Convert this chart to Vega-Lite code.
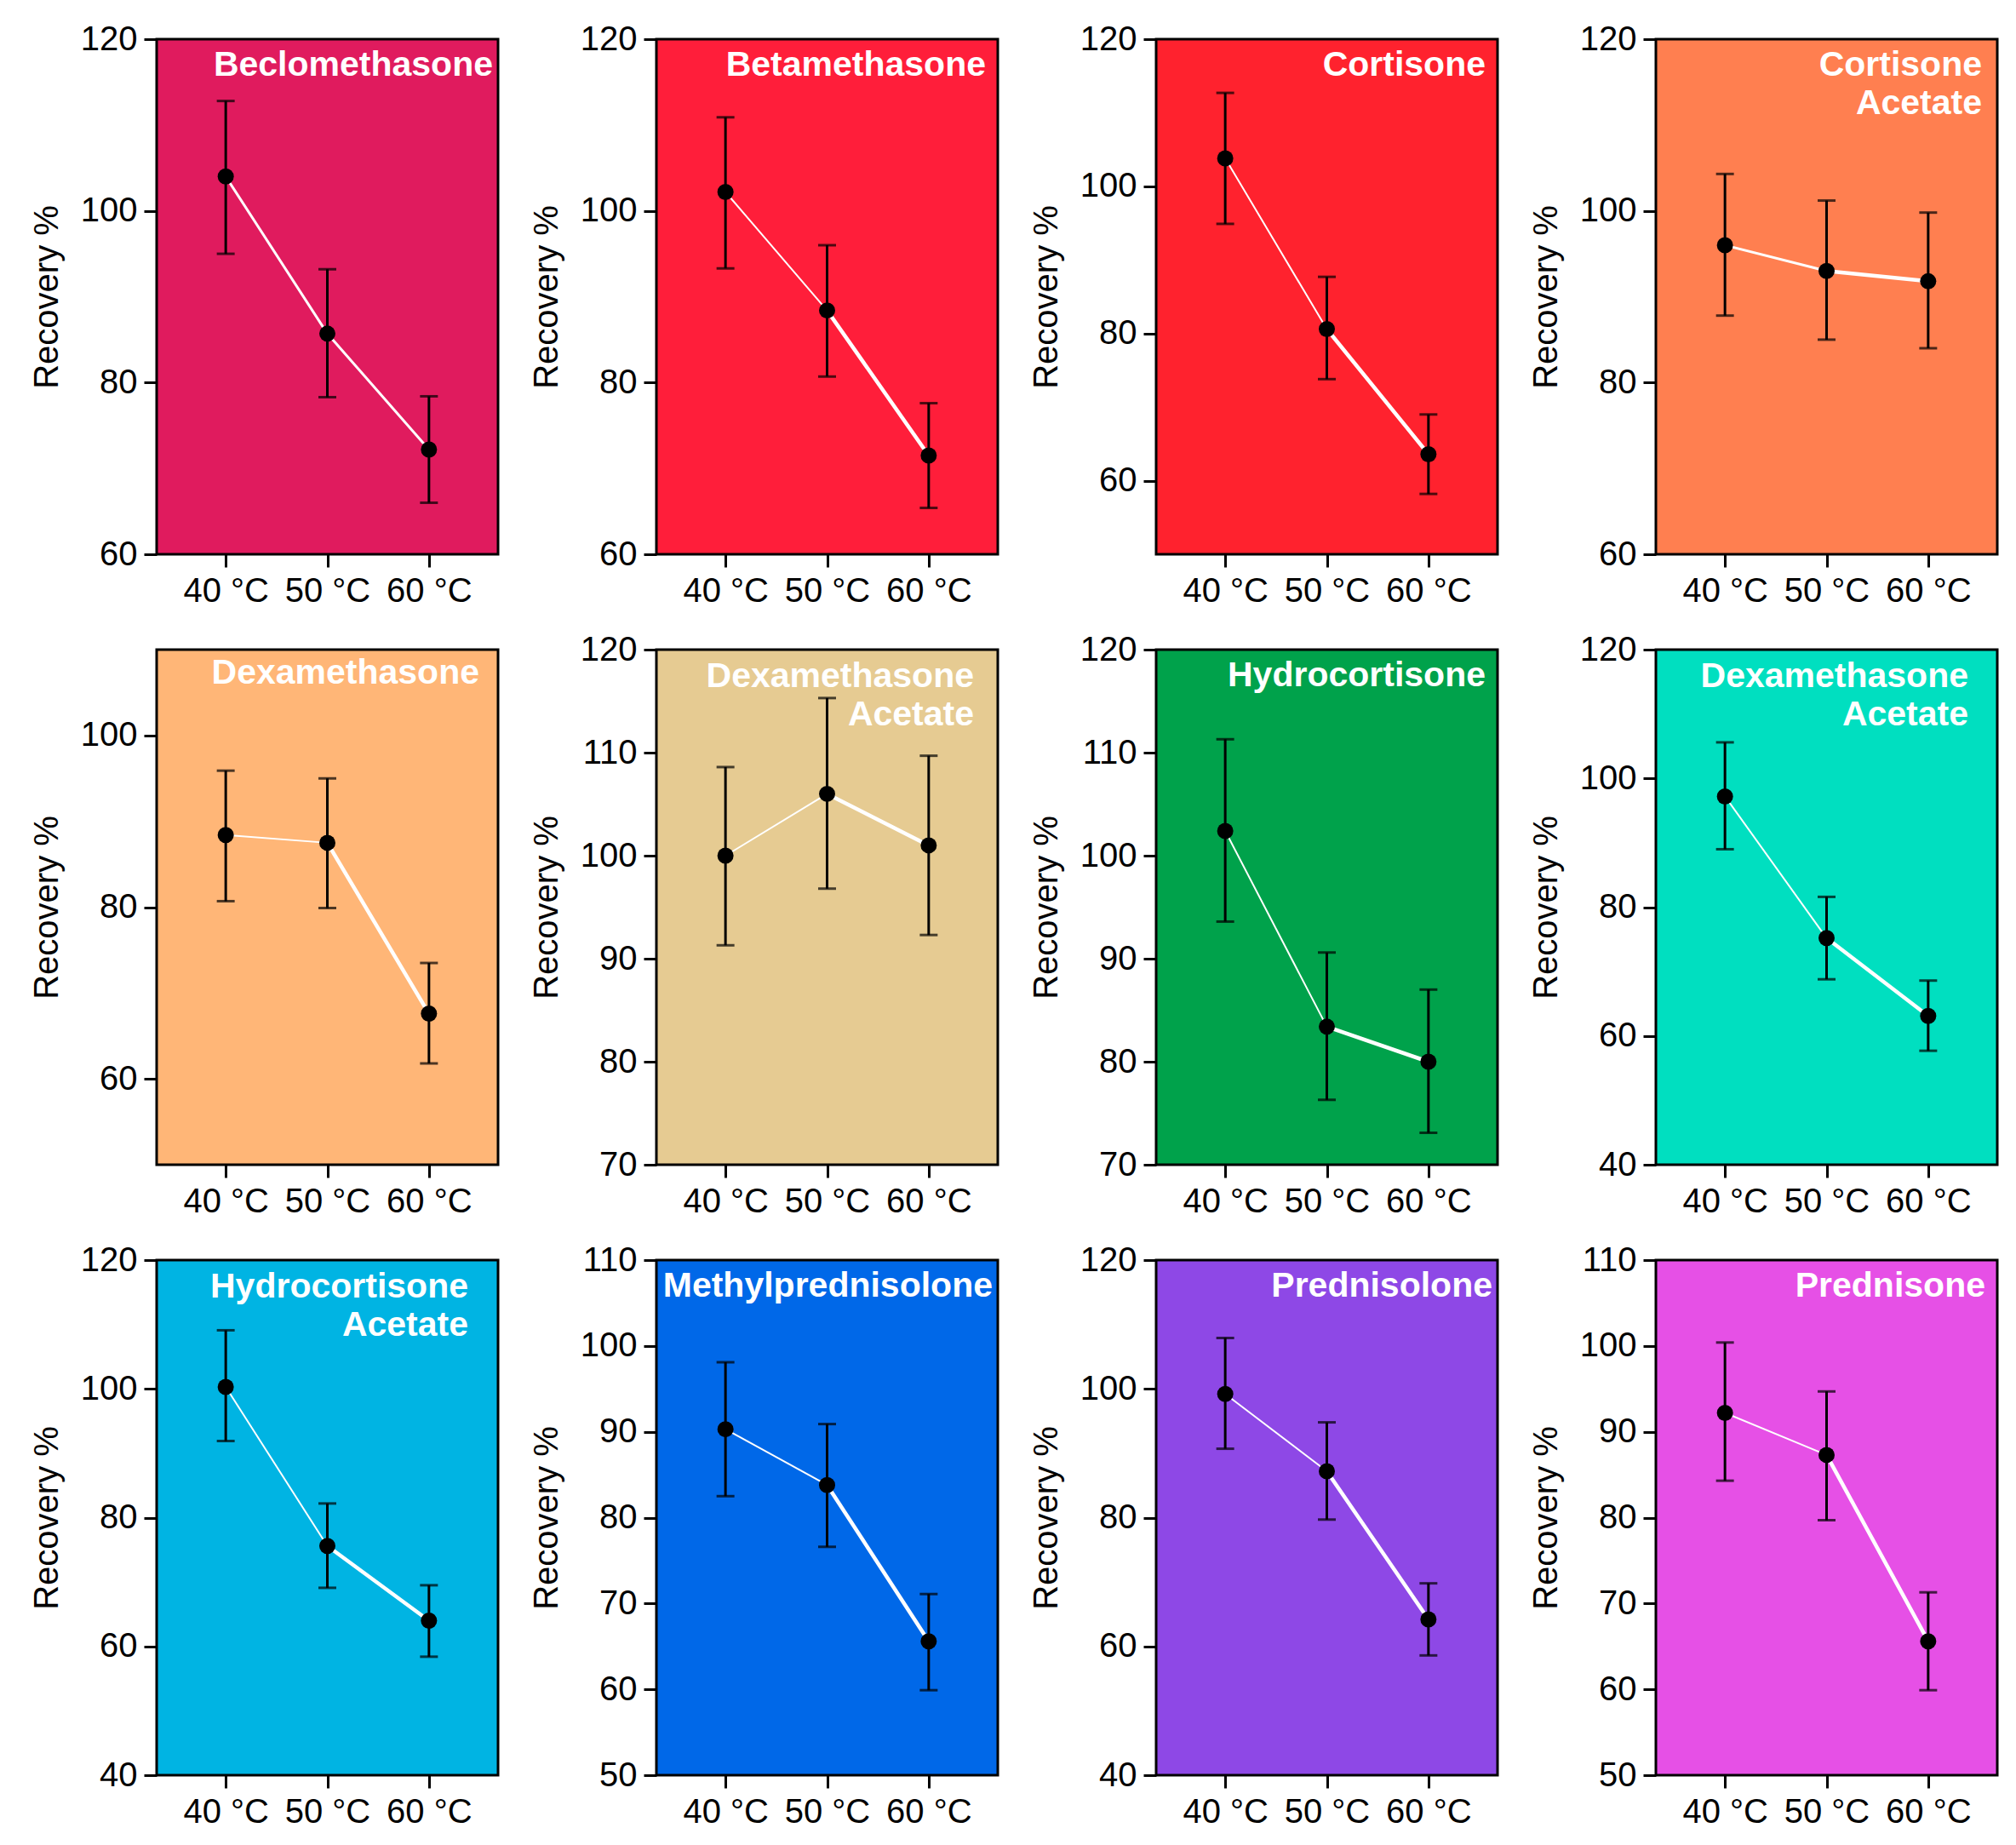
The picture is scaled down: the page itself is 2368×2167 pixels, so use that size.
{
  "$schema": "https://vega.github.io/schema/vega-lite/v6.json",
  "description": "Recovery % of corticosteroids at 40, 50 and 60 °C",
  "padding": {"left": 33, "top": 24, "right": 4, "bottom": 4},
  "background": "white",
  "datasets": {
    "rec": [
      {"panel": 1, "drug": "Beclomethasone", "t": 40, "r": 104.0, "lo": 95.0, "hi": 112.8},
      {"panel": 1, "drug": "Beclomethasone", "t": 50, "r": 85.7, "lo": 78.3, "hi": 93.2},
      {"panel": 1, "drug": "Beclomethasone", "t": 60, "r": 72.2, "lo": 66.0, "hi": 78.4},
      {"panel": 2, "drug": "Betamethasone", "t": 40, "r": 102.2, "lo": 93.3, "hi": 110.9},
      {"panel": 2, "drug": "Betamethasone", "t": 50, "r": 88.4, "lo": 80.7, "hi": 96.0},
      {"panel": 2, "drug": "Betamethasone", "t": 60, "r": 71.5, "lo": 65.4, "hi": 77.6},
      {"panel": 3, "drug": "Cortisone", "t": 40, "r": 103.8, "lo": 94.9, "hi": 112.7},
      {"panel": 3, "drug": "Cortisone", "t": 50, "r": 80.6, "lo": 73.8, "hi": 87.7},
      {"panel": 3, "drug": "Cortisone", "t": 60, "r": 63.6, "lo": 58.2, "hi": 69.0},
      {"panel": 4, "drug": "Cortisone Acetate", "t": 40, "r": 96.0, "lo": 87.8, "hi": 104.3},
      {"panel": 4, "drug": "Cortisone Acetate", "t": 50, "r": 93.0, "lo": 85.0, "hi": 101.2},
      {"panel": 4, "drug": "Cortisone Acetate", "t": 60, "r": 91.8, "lo": 84.0, "hi": 99.8},
      {"panel": 5, "drug": "Dexamethasone", "t": 40, "r": 88.4, "lo": 80.7, "hi": 95.9},
      {"panel": 5, "drug": "Dexamethasone", "t": 50, "r": 87.5, "lo": 79.9, "hi": 95.0},
      {"panel": 5, "drug": "Dexamethasone", "t": 60, "r": 67.6, "lo": 61.8, "hi": 73.5},
      {"panel": 6, "drug": "Dexamethasone Acetate", "t": 40, "r": 100.0, "lo": 91.3, "hi": 108.6},
      {"panel": 6, "drug": "Dexamethasone Acetate", "t": 50, "r": 106.0, "lo": 96.8, "hi": 115.3},
      {"panel": 6, "drug": "Dexamethasone Acetate", "t": 60, "r": 101.0, "lo": 92.3, "hi": 109.7},
      {"panel": 7, "drug": "Hydrocortisone", "t": 40, "r": 102.4, "lo": 93.6, "hi": 111.3},
      {"panel": 7, "drug": "Hydrocortisone", "t": 50, "r": 83.4, "lo": 76.3, "hi": 90.6},
      {"panel": 7, "drug": "Hydrocortisone", "t": 60, "r": 80.0, "lo": 73.1, "hi": 87.0},
      {"panel": 8, "drug": "Dexamethasone Acetate", "t": 40, "r": 97.2, "lo": 89.0, "hi": 105.6},
      {"panel": 8, "drug": "Dexamethasone Acetate", "t": 50, "r": 75.2, "lo": 68.8, "hi": 81.6},
      {"panel": 8, "drug": "Dexamethasone Acetate", "t": 60, "r": 63.1, "lo": 57.7, "hi": 68.6},
      {"panel": 9, "drug": "Hydrocortisone Acetate", "t": 40, "r": 100.3, "lo": 91.9, "hi": 109.1},
      {"panel": 9, "drug": "Hydrocortisone Acetate", "t": 50, "r": 75.6, "lo": 69.1, "hi": 82.2},
      {"panel": 9, "drug": "Hydrocortisone Acetate", "t": 60, "r": 64.0, "lo": 58.4, "hi": 69.5},
      {"panel": 10, "drug": "Methylprednisolone", "t": 40, "r": 90.3, "lo": 82.5, "hi": 98.1},
      {"panel": 10, "drug": "Methylprednisolone", "t": 50, "r": 83.8, "lo": 76.6, "hi": 90.9},
      {"panel": 10, "drug": "Methylprednisolone", "t": 60, "r": 65.6, "lo": 59.9, "hi": 71.1},
      {"panel": 11, "drug": "Prednisolone", "t": 40, "r": 99.2, "lo": 90.7, "hi": 107.9},
      {"panel": 11, "drug": "Prednisolone", "t": 50, "r": 87.2, "lo": 79.7, "hi": 94.8},
      {"panel": 11, "drug": "Prednisolone", "t": 60, "r": 64.2, "lo": 58.6, "hi": 69.8},
      {"panel": 12, "drug": "Prednisone", "t": 40, "r": 92.2, "lo": 84.3, "hi": 100.4},
      {"panel": 12, "drug": "Prednisone", "t": 50, "r": 87.3, "lo": 79.7, "hi": 94.7},
      {"panel": 12, "drug": "Prednisone", "t": 60, "r": 65.6, "lo": 59.9, "hi": 71.3}
    ]
  },
  "columns": 4,
  "spacing": {"row": 25, "column": 33},
  "concat": [
    {
      "width": 401, "height": 605,
      "title": {"text": "Beclomethasone", "dx": -6},
      "view": {"fill": "#E01B5E"},
      "data": {"name": "rec"},
      "transform": [{"filter": "datum.panel == 1"}, {"window": [{"op": "lead", "field": "t", "as": "t2"}, {"op": "lead", "field": "r", "as": "r2"}], "sort": [{"field": "t"}]}],
      "encoding": {
        "x": {"field": "t", "type": "quantitative", "title": null, "scale": {"domain": [33.2, 66.8], "nice": false, "zero": false}, "axis": {"values": [40, 50, 60], "labelExpr": "datum.value + ' °C'"}},
        "y": {"field": "r", "type": "quantitative", "title": "Recovery %", "scale": {"domain": [60, 120], "nice": false, "zero": false}, "axis": {"values": [60, 80, 100, 120]}}
      },
      "layer": [
        {"transform": [{"filter": "datum.t == 40"}], "mark": {"type": "rule", "color": "white", "strokeWidth": 3, "strokeCap": "round"}, "encoding": {"x2": {"field": "t2"}, "y2": {"field": "r2"}}},
        {"transform": [{"filter": "datum.t == 50"}], "mark": {"type": "rule", "color": "white", "strokeWidth": 3, "strokeCap": "round"}, "encoding": {"x2": {"field": "t2"}, "y2": {"field": "r2"}}},
        {"mark": {"type": "errorbar", "color": "black", "thickness": 3, "ticks": {"size": 21, "thickness": 3, "color": "black"}}, "encoding": {"y": {"field": "lo", "type": "quantitative", "title": "Recovery %"}, "y2": {"field": "hi"}}},
        {"mark": {"type": "circle", "color": "black", "size": 361, "opacity": 1}}
      ]
    },
    {
      "width": 401, "height": 605,
      "title": {"text": "Betamethasone"},
      "view": {"fill": "#FF1E3A"},
      "data": {"name": "rec"},
      "transform": [{"filter": "datum.panel == 2"}, {"window": [{"op": "lead", "field": "t", "as": "t2"}, {"op": "lead", "field": "r", "as": "r2"}], "sort": [{"field": "t"}]}],
      "encoding": {
        "x": {"field": "t", "type": "quantitative", "title": null, "scale": {"domain": [33.2, 66.8], "nice": false, "zero": false}, "axis": {"values": [40, 50, 60], "labelExpr": "datum.value + ' °C'"}},
        "y": {"field": "r", "type": "quantitative", "title": "Recovery %", "scale": {"domain": [60, 120], "nice": false, "zero": false}, "axis": {"values": [60, 80, 100, 120]}}
      },
      "layer": [
        {"transform": [{"filter": "datum.t == 40"}], "mark": {"type": "rule", "color": "white", "strokeWidth": 2, "strokeCap": "round"}, "encoding": {"x2": {"field": "t2"}, "y2": {"field": "r2"}}},
        {"transform": [{"filter": "datum.t == 50"}], "mark": {"type": "rule", "color": "white", "strokeWidth": 4.5, "strokeCap": "round"}, "encoding": {"x2": {"field": "t2"}, "y2": {"field": "r2"}}},
        {"mark": {"type": "errorbar", "color": "black", "thickness": 3, "ticks": {"size": 21, "thickness": 3, "color": "black"}}, "encoding": {"y": {"field": "lo", "type": "quantitative", "title": "Recovery %"}, "y2": {"field": "hi"}}},
        {"mark": {"type": "circle", "color": "black", "size": 361, "opacity": 1}}
      ]
    },
    {
      "width": 401, "height": 605,
      "title": {"text": "Cortisone"},
      "view": {"fill": "#FF222E"},
      "data": {"name": "rec"},
      "transform": [{"filter": "datum.panel == 3"}, {"window": [{"op": "lead", "field": "t", "as": "t2"}, {"op": "lead", "field": "r", "as": "r2"}], "sort": [{"field": "t"}]}],
      "encoding": {
        "x": {"field": "t", "type": "quantitative", "title": null, "scale": {"domain": [33.2, 66.8], "nice": false, "zero": false}, "axis": {"values": [40, 50, 60], "labelExpr": "datum.value + ' °C'"}},
        "y": {"field": "r", "type": "quantitative", "title": "Recovery %", "scale": {"domain": [50, 120], "nice": false, "zero": false}, "axis": {"values": [60, 80, 100, 120]}}
      },
      "layer": [
        {"transform": [{"filter": "datum.t == 40"}], "mark": {"type": "rule", "color": "white", "strokeWidth": 2, "strokeCap": "round"}, "encoding": {"x2": {"field": "t2"}, "y2": {"field": "r2"}}},
        {"transform": [{"filter": "datum.t == 50"}], "mark": {"type": "rule", "color": "white", "strokeWidth": 4.5, "strokeCap": "round"}, "encoding": {"x2": {"field": "t2"}, "y2": {"field": "r2"}}},
        {"mark": {"type": "errorbar", "color": "black", "thickness": 3, "ticks": {"size": 21, "thickness": 3, "color": "black"}}, "encoding": {"y": {"field": "lo", "type": "quantitative", "title": "Recovery %"}, "y2": {"field": "hi"}}},
        {"mark": {"type": "circle", "color": "black", "size": 361, "opacity": 1}}
      ]
    },
    {
      "width": 401, "height": 605,
      "title": {"text": ["Cortisone", "Acetate"], "offset": -117, "dx": -18},
      "view": {"fill": "#FF7F50"},
      "data": {"name": "rec"},
      "transform": [{"filter": "datum.panel == 4"}, {"window": [{"op": "lead", "field": "t", "as": "t2"}, {"op": "lead", "field": "r", "as": "r2"}], "sort": [{"field": "t"}]}],
      "encoding": {
        "x": {"field": "t", "type": "quantitative", "title": null, "scale": {"domain": [33.2, 66.8], "nice": false, "zero": false}, "axis": {"values": [40, 50, 60], "labelExpr": "datum.value + ' °C'"}},
        "y": {"field": "r", "type": "quantitative", "title": "Recovery %", "scale": {"domain": [60, 120], "nice": false, "zero": false}, "axis": {"values": [60, 80, 100, 120]}}
      },
      "layer": [
        {"transform": [{"filter": "datum.t == 40"}], "mark": {"type": "rule", "color": "white", "strokeWidth": 3, "strokeCap": "round"}, "encoding": {"x2": {"field": "t2"}, "y2": {"field": "r2"}}},
        {"transform": [{"filter": "datum.t == 50"}], "mark": {"type": "rule", "color": "white", "strokeWidth": 4.5, "strokeCap": "round"}, "encoding": {"x2": {"field": "t2"}, "y2": {"field": "r2"}}},
        {"mark": {"type": "errorbar", "color": "black", "thickness": 3, "ticks": {"size": 21, "thickness": 3, "color": "black"}}, "encoding": {"y": {"field": "lo", "type": "quantitative", "title": "Recovery %"}, "y2": {"field": "hi"}}},
        {"mark": {"type": "circle", "color": "black", "size": 361, "opacity": 1}}
      ]
    },
    {
      "width": 401, "height": 605,
      "title": {"text": "Dexamethasone", "offset": -49, "dx": -22},
      "view": {"fill": "#FFB677"},
      "data": {"name": "rec"},
      "transform": [{"filter": "datum.panel == 5"}, {"window": [{"op": "lead", "field": "t", "as": "t2"}, {"op": "lead", "field": "r", "as": "r2"}], "sort": [{"field": "t"}]}],
      "encoding": {
        "x": {"field": "t", "type": "quantitative", "title": null, "scale": {"domain": [33.2, 66.8], "nice": false, "zero": false}, "axis": {"values": [40, 50, 60], "labelExpr": "datum.value + ' °C'"}},
        "y": {"field": "r", "type": "quantitative", "title": "Recovery %", "scale": {"domain": [50, 110], "nice": false, "zero": false}, "axis": {"values": [60, 80, 100]}}
      },
      "layer": [
        {"transform": [{"filter": "datum.t == 40"}], "mark": {"type": "rule", "color": "white", "strokeWidth": 2, "strokeCap": "round"}, "encoding": {"x2": {"field": "t2"}, "y2": {"field": "r2"}}},
        {"transform": [{"filter": "datum.t == 50"}], "mark": {"type": "rule", "color": "white", "strokeWidth": 4.5, "strokeCap": "round"}, "encoding": {"x2": {"field": "t2"}, "y2": {"field": "r2"}}},
        {"mark": {"type": "errorbar", "color": "black", "thickness": 3, "ticks": {"size": 21, "thickness": 3, "color": "black"}}, "encoding": {"y": {"field": "lo", "type": "quantitative", "title": "Recovery %"}, "y2": {"field": "hi"}}},
        {"mark": {"type": "circle", "color": "black", "size": 361, "opacity": 1}}
      ]
    },
    {
      "width": 401, "height": 605,
      "title": {"text": ["Dexamethasone", "Acetate"], "offset": -118, "dx": -28},
      "view": {"fill": "#E6CB92"},
      "data": {"name": "rec"},
      "transform": [{"filter": "datum.panel == 6"}, {"window": [{"op": "lead", "field": "t", "as": "t2"}, {"op": "lead", "field": "r", "as": "r2"}], "sort": [{"field": "t"}]}],
      "encoding": {
        "x": {"field": "t", "type": "quantitative", "title": null, "scale": {"domain": [33.2, 66.8], "nice": false, "zero": false}, "axis": {"values": [40, 50, 60], "labelExpr": "datum.value + ' °C'"}},
        "y": {"field": "r", "type": "quantitative", "title": "Recovery %", "scale": {"domain": [70, 120], "nice": false, "zero": false}, "axis": {"values": [70, 80, 90, 100, 110, 120]}}
      },
      "layer": [
        {"transform": [{"filter": "datum.t == 40"}], "mark": {"type": "rule", "color": "white", "strokeWidth": 2, "strokeCap": "round"}, "encoding": {"x2": {"field": "t2"}, "y2": {"field": "r2"}}},
        {"transform": [{"filter": "datum.t == 50"}], "mark": {"type": "rule", "color": "white", "strokeWidth": 4.5, "strokeCap": "round"}, "encoding": {"x2": {"field": "t2"}, "y2": {"field": "r2"}}},
        {"mark": {"type": "errorbar", "color": "black", "thickness": 3, "ticks": {"size": 21, "thickness": 3, "color": "black"}}, "encoding": {"y": {"field": "lo", "type": "quantitative", "title": "Recovery %"}, "y2": {"field": "hi"}}},
        {"mark": {"type": "circle", "color": "black", "size": 361, "opacity": 1}}
      ]
    },
    {
      "width": 401, "height": 605,
      "title": {"text": "Hydrocortisone"},
      "view": {"fill": "#00A24B"},
      "data": {"name": "rec"},
      "transform": [{"filter": "datum.panel == 7"}, {"window": [{"op": "lead", "field": "t", "as": "t2"}, {"op": "lead", "field": "r", "as": "r2"}], "sort": [{"field": "t"}]}],
      "encoding": {
        "x": {"field": "t", "type": "quantitative", "title": null, "scale": {"domain": [33.2, 66.8], "nice": false, "zero": false}, "axis": {"values": [40, 50, 60], "labelExpr": "datum.value + ' °C'"}},
        "y": {"field": "r", "type": "quantitative", "title": "Recovery %", "scale": {"domain": [70, 120], "nice": false, "zero": false}, "axis": {"values": [70, 80, 90, 100, 110, 120]}}
      },
      "layer": [
        {"transform": [{"filter": "datum.t == 40"}], "mark": {"type": "rule", "color": "white", "strokeWidth": 2, "strokeCap": "round"}, "encoding": {"x2": {"field": "t2"}, "y2": {"field": "r2"}}},
        {"transform": [{"filter": "datum.t == 50"}], "mark": {"type": "rule", "color": "white", "strokeWidth": 4.5, "strokeCap": "round"}, "encoding": {"x2": {"field": "t2"}, "y2": {"field": "r2"}}},
        {"mark": {"type": "errorbar", "color": "black", "thickness": 3, "ticks": {"size": 21, "thickness": 3, "color": "black"}}, "encoding": {"y": {"field": "lo", "type": "quantitative", "title": "Recovery %"}, "y2": {"field": "hi"}}},
        {"mark": {"type": "circle", "color": "black", "size": 361, "opacity": 1}}
      ]
    },
    {
      "width": 401, "height": 605,
      "title": {"text": ["Dexamethasone", "Acetate"], "offset": -118, "dx": -34},
      "view": {"fill": "#00DFC0"},
      "data": {"name": "rec"},
      "transform": [{"filter": "datum.panel == 8"}, {"window": [{"op": "lead", "field": "t", "as": "t2"}, {"op": "lead", "field": "r", "as": "r2"}], "sort": [{"field": "t"}]}],
      "encoding": {
        "x": {"field": "t", "type": "quantitative", "title": null, "scale": {"domain": [33.2, 66.8], "nice": false, "zero": false}, "axis": {"values": [40, 50, 60], "labelExpr": "datum.value + ' °C'"}},
        "y": {"field": "r", "type": "quantitative", "title": "Recovery %", "scale": {"domain": [40, 120], "nice": false, "zero": false}, "axis": {"values": [40, 60, 80, 100, 120]}}
      },
      "layer": [
        {"transform": [{"filter": "datum.t == 40"}], "mark": {"type": "rule", "color": "white", "strokeWidth": 2, "strokeCap": "round"}, "encoding": {"x2": {"field": "t2"}, "y2": {"field": "r2"}}},
        {"transform": [{"filter": "datum.t == 50"}], "mark": {"type": "rule", "color": "white", "strokeWidth": 4.5, "strokeCap": "round"}, "encoding": {"x2": {"field": "t2"}, "y2": {"field": "r2"}}},
        {"mark": {"type": "errorbar", "color": "black", "thickness": 3, "ticks": {"size": 21, "thickness": 3, "color": "black"}}, "encoding": {"y": {"field": "lo", "type": "quantitative", "title": "Recovery %"}, "y2": {"field": "hi"}}},
        {"mark": {"type": "circle", "color": "black", "size": 361, "opacity": 1}}
      ]
    },
    {
      "width": 401, "height": 605,
      "title": {"text": ["Hydrocortisone", "Acetate"], "offset": -118, "dx": -35},
      "view": {"fill": "#00B4E3"},
      "data": {"name": "rec"},
      "transform": [{"filter": "datum.panel == 9"}, {"window": [{"op": "lead", "field": "t", "as": "t2"}, {"op": "lead", "field": "r", "as": "r2"}], "sort": [{"field": "t"}]}],
      "encoding": {
        "x": {"field": "t", "type": "quantitative", "title": null, "scale": {"domain": [33.2, 66.8], "nice": false, "zero": false}, "axis": {"values": [40, 50, 60], "labelExpr": "datum.value + ' °C'"}},
        "y": {"field": "r", "type": "quantitative", "title": "Recovery %", "scale": {"domain": [40, 120], "nice": false, "zero": false}, "axis": {"values": [40, 60, 80, 100, 120]}}
      },
      "layer": [
        {"transform": [{"filter": "datum.t == 40"}], "mark": {"type": "rule", "color": "white", "strokeWidth": 2, "strokeCap": "round"}, "encoding": {"x2": {"field": "t2"}, "y2": {"field": "r2"}}},
        {"transform": [{"filter": "datum.t == 50"}], "mark": {"type": "rule", "color": "white", "strokeWidth": 4.5, "strokeCap": "round"}, "encoding": {"x2": {"field": "t2"}, "y2": {"field": "r2"}}},
        {"mark": {"type": "errorbar", "color": "black", "thickness": 3, "ticks": {"size": 21, "thickness": 3, "color": "black"}}, "encoding": {"y": {"field": "lo", "type": "quantitative", "title": "Recovery %"}, "y2": {"field": "hi"}}},
        {"mark": {"type": "circle", "color": "black", "size": 361, "opacity": 1}}
      ]
    },
    {
      "width": 401, "height": 605,
      "title": {"text": "Methylprednisolone", "dx": -6},
      "view": {"fill": "#0068E8"},
      "data": {"name": "rec"},
      "transform": [{"filter": "datum.panel == 10"}, {"window": [{"op": "lead", "field": "t", "as": "t2"}, {"op": "lead", "field": "r", "as": "r2"}], "sort": [{"field": "t"}]}],
      "encoding": {
        "x": {"field": "t", "type": "quantitative", "title": null, "scale": {"domain": [33.2, 66.8], "nice": false, "zero": false}, "axis": {"values": [40, 50, 60], "labelExpr": "datum.value + ' °C'"}},
        "y": {"field": "r", "type": "quantitative", "title": "Recovery %", "scale": {"domain": [50, 110], "nice": false, "zero": false}, "axis": {"values": [50, 60, 70, 80, 90, 100, 110]}}
      },
      "layer": [
        {"transform": [{"filter": "datum.t == 40"}], "mark": {"type": "rule", "color": "white", "strokeWidth": 2, "strokeCap": "round"}, "encoding": {"x2": {"field": "t2"}, "y2": {"field": "r2"}}},
        {"transform": [{"filter": "datum.t == 50"}], "mark": {"type": "rule", "color": "white", "strokeWidth": 4.5, "strokeCap": "round"}, "encoding": {"x2": {"field": "t2"}, "y2": {"field": "r2"}}},
        {"mark": {"type": "errorbar", "color": "black", "thickness": 3, "ticks": {"size": 21, "thickness": 3, "color": "black"}}, "encoding": {"y": {"field": "lo", "type": "quantitative", "title": "Recovery %"}, "y2": {"field": "hi"}}},
        {"mark": {"type": "circle", "color": "black", "size": 361, "opacity": 1}}
      ]
    },
    {
      "width": 401, "height": 605,
      "title": {"text": "Prednisolone", "dx": -6},
      "view": {"fill": "#8E48E6"},
      "data": {"name": "rec"},
      "transform": [{"filter": "datum.panel == 11"}, {"window": [{"op": "lead", "field": "t", "as": "t2"}, {"op": "lead", "field": "r", "as": "r2"}], "sort": [{"field": "t"}]}],
      "encoding": {
        "x": {"field": "t", "type": "quantitative", "title": null, "scale": {"domain": [33.2, 66.8], "nice": false, "zero": false}, "axis": {"values": [40, 50, 60], "labelExpr": "datum.value + ' °C'"}},
        "y": {"field": "r", "type": "quantitative", "title": "Recovery %", "scale": {"domain": [40, 120], "nice": false, "zero": false}, "axis": {"values": [40, 60, 80, 100, 120]}}
      },
      "layer": [
        {"transform": [{"filter": "datum.t == 40"}], "mark": {"type": "rule", "color": "white", "strokeWidth": 2, "strokeCap": "round"}, "encoding": {"x2": {"field": "t2"}, "y2": {"field": "r2"}}},
        {"transform": [{"filter": "datum.t == 50"}], "mark": {"type": "rule", "color": "white", "strokeWidth": 4.5, "strokeCap": "round"}, "encoding": {"x2": {"field": "t2"}, "y2": {"field": "r2"}}},
        {"mark": {"type": "errorbar", "color": "black", "thickness": 3, "ticks": {"size": 21, "thickness": 3, "color": "black"}}, "encoding": {"y": {"field": "lo", "type": "quantitative", "title": "Recovery %"}, "y2": {"field": "hi"}}},
        {"mark": {"type": "circle", "color": "black", "size": 361, "opacity": 1}}
      ]
    },
    {
      "width": 401, "height": 605,
      "title": {"text": "Prednisone"},
      "view": {"fill": "#E650E6"},
      "data": {"name": "rec"},
      "transform": [{"filter": "datum.panel == 12"}, {"window": [{"op": "lead", "field": "t", "as": "t2"}, {"op": "lead", "field": "r", "as": "r2"}], "sort": [{"field": "t"}]}],
      "encoding": {
        "x": {"field": "t", "type": "quantitative", "title": null, "scale": {"domain": [33.2, 66.8], "nice": false, "zero": false}, "axis": {"values": [40, 50, 60], "labelExpr": "datum.value + ' °C'"}},
        "y": {"field": "r", "type": "quantitative", "title": "Recovery %", "scale": {"domain": [50, 110], "nice": false, "zero": false}, "axis": {"values": [50, 60, 70, 80, 90, 100, 110]}}
      },
      "layer": [
        {"transform": [{"filter": "datum.t == 40"}], "mark": {"type": "rule", "color": "white", "strokeWidth": 2, "strokeCap": "round"}, "encoding": {"x2": {"field": "t2"}, "y2": {"field": "r2"}}},
        {"transform": [{"filter": "datum.t == 50"}], "mark": {"type": "rule", "color": "white", "strokeWidth": 4.5, "strokeCap": "round"}, "encoding": {"x2": {"field": "t2"}, "y2": {"field": "r2"}}},
        {"mark": {"type": "errorbar", "color": "black", "thickness": 3, "ticks": {"size": 21, "thickness": 3, "color": "black"}}, "encoding": {"y": {"field": "lo", "type": "quantitative", "title": "Recovery %"}, "y2": {"field": "hi"}}},
        {"mark": {"type": "circle", "color": "black", "size": 361, "opacity": 1}}
      ]
    }
  ],
  "config": {
    "font": "Liberation Sans",
    "view": {"stroke": "black", "strokeWidth": 3},
    "axis": {
      "grid": false,
      "domain": false,
      "ticks": true,
      "tickColor": "black",
      "tickWidth": 3,
      "tickSize": 15,
      "labelFontSize": 40,
      "labelColor": "black",
      "labelPadding": 8,
      "labelFlush": false,
      "labelOverlap": false,
      "titleFontSize": 40,
      "titleFontWeight": "normal",
      "titleColor": "black",
      "titlePadding": 19
    },
    "axisX": {"labelPadding": 8},
    "title": {
      "anchor": "end",
      "frame": "group",
      "color": "white",
      "font": "Liberation Sans",
      "fontSize": 41,
      "fontWeight": "bold",
      "baseline": "top",
      "offset": -72,
      "dx": -14,
      "lineHeight": 45
    }
  }
}
